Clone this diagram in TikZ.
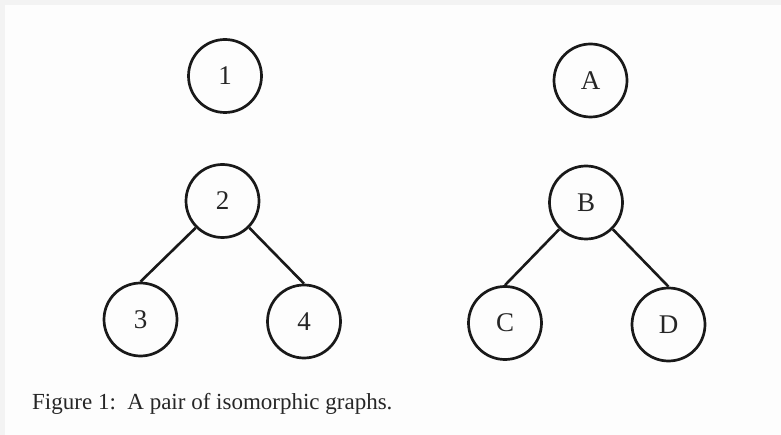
\documentclass[tikz,border=0pt]{standalone}
\usepackage{fontspec}
\setmainfont{Liberation Serif}
\begin{document}
\begin{tikzpicture}[x=1pt,y=-1pt,
  vtx/.style={circle,draw=black!90,line width=2.7pt,minimum size=73pt,inner sep=0pt,font=\fontsize{27}{27}\selectfont,text=black!85},
  edge/.style={line width=2.6pt,draw=black!90},
  captext/.style={font=\fontsize{23}{25}\selectfont,text=black!85,anchor=base west,inner sep=0pt}]
\definecolor{bgc}{HTML}{FDFDFD}
\definecolor{frm}{HTML}{F3F3F3}
\fill[frm] (0,0) rectangle (781,435);
\fill[bgc] (5,5) rectangle (781,435);
\useasboundingbox (0,0) rectangle (781,435);
\node[vtx] (n1) at (225,76) {1};
\node[vtx] (n2) at (222.5,201) {2};
\node[vtx] (n3) at (140.5,319.5) {3};
\node[vtx] (n4) at (304,321.5) {4};
\node[vtx] (nA) at (590.5,80.5) {A};
\node[vtx] (nB) at (586,202.5) {B};
\node[vtx] (nC) at (505,323) {C};
\node[vtx] (nD) at (668.5,324.5) {D};
\draw[edge] (n2.south west) -- (n3.north);
\draw[edge] (n2.south east) -- (n4.north);
\draw[edge] (nB.south west) -- (nC.north);
\draw[edge] (nB.south east) -- (nD.north);
\node[captext] (capt) at (32,409) {Figure 1:\ \ A pair of isomorphic graphs.};
\end{tikzpicture}
\end{document}
